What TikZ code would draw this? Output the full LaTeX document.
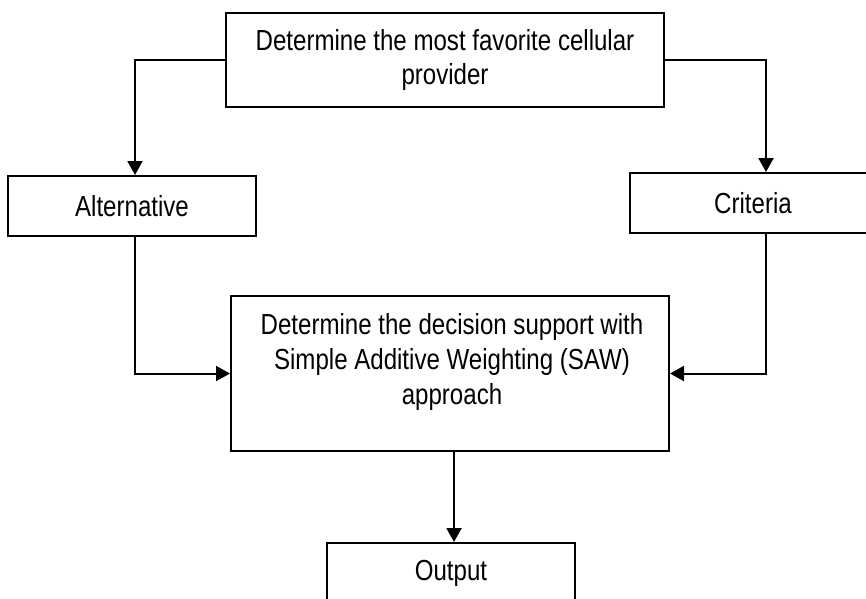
\documentclass[tikz,border=0pt]{standalone}
\usepackage{fontspec}
\setmainfont{Liberation Sans}[FakeStretch=0.83]
\usetikzlibrary{arrows.meta, positioning}

\tikzset{
  box/.style={draw, line width=2pt, inner sep=0pt, align=center, font=\fontsize{29}{34}\selectfont},
  boxtext/.style={inner sep=0pt, align=center, font=\fontsize{29}{35}\selectfont},
  flow/.style={line width=2pt, -{Triangle[length=14pt, width=15pt]}}
}

\begin{document}
\begin{tikzpicture}[x=1pt, y=-1pt]
        \useasboundingbox (0,0) rectangle (866,598);
        % Cajas
        \node[box, minimum width=438pt, minimum height=94pt] (goal) at (445,60) {Determine the most favorite cellular\\provider};
        \node[box, minimum width=248pt, minimum height=60pt] (alt) at (132,206) {Alternative};
        \node[box, minimum width=246pt, minimum height=60pt] (crit) at (753,203) {Criteria};
        \node[box, minimum width=438pt, minimum height=155pt] (saw) at (450,373.5) {};
        \node[boxtext] (sawtext) at (452,362) {Determine the decision support with\\Simple Additive Weighting (SAW)\\approach};
        \node[box, minimum width=248pt, minimum height=60pt] (out) at (451,573) {Output};
        % Flechas
        \draw[flow] (goal.west) -| ([xshift=3pt]alt.north);
        \draw[flow] (goal.east) -| ([xshift=13pt]crit.north);
        \draw[flow] ([xshift=3pt]alt.south) |- (saw.west);
        \draw[flow] ([xshift=13pt]crit.south) |- (saw.east);
        \draw[flow] ([xshift=4pt]saw.south) -- ([xshift=4pt]saw.south |- out.north);
    \end{tikzpicture}
\end{document}
